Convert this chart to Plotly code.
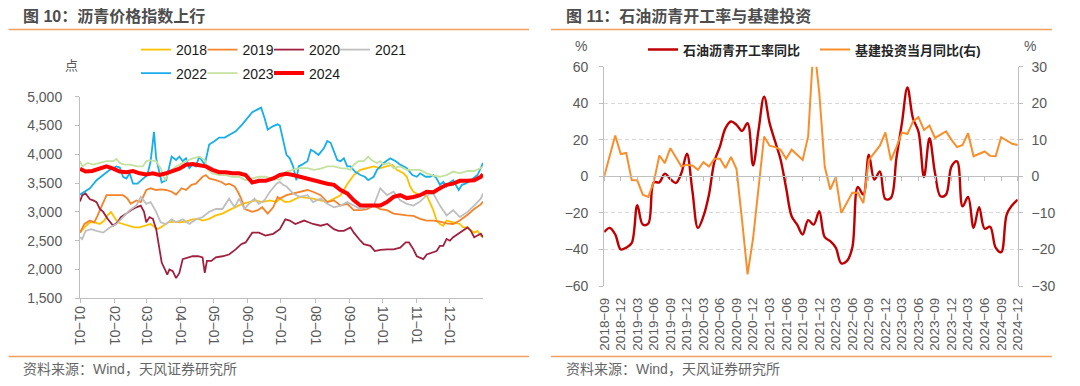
import pandas as pd
import plotly.graph_objects as go

# ------------------------------------------------------------------
# Left chart: asphalt price index by year (day-of-year offsets, value in points)
# ------------------------------------------------------------------
d2018_days = [0, 4, 9, 13, 18, 22, 25, 28, 31, 34, 39, 45, 49, 54, 60, 64, 70, 73, 80, 84,
              90, 96, 102, 107, 111, 117, 123, 129, 135, 141, 147, 153, 159, 165, 172, 178, 181, 186, 190, 199,
              211, 224, 236, 242, 248, 254, 260, 266, 272, 278, 283, 287, 293, 296, 299, 302, 308, 314, 317, 320,
              323, 326, 329, 332, 338, 344, 347, 351, 357, 360, 363, 365]
d2018_vals = [2640, 2730, 2820, 2820, 2790, 2850, 2940, 3000, 2910, 2820, 2790, 2760, 2730, 2730, 2760, 2790, 2700, 2730, 2820, 2830,
              2820, 2830, 2870, 2880, 2850, 2880, 2940, 2970, 3030, 3080, 3140, 3170, 3200, 3170, 3200, 3170, 3230, 3170, 3180, 3260,
              3230, 3170, 3290, 3480, 3640, 3730, 3760, 3790, 3760, 3790, 3820, 3730, 3670, 3610, 3440, 3350, 3290, 3290, 3170, 3030,
              2850, 2790, 2760, 2850, 2820, 2790, 2730, 2730, 2640, 2670, 2590, 2560]

d2019_days = [0, 4, 9, 13, 16, 19, 24, 28, 34, 39, 43, 46, 51, 55, 60, 64, 69, 73, 78, 83,
              87, 92, 96, 101, 105, 111, 114, 117, 123, 128, 132, 135, 140, 143, 146, 149, 152, 156, 161, 165,
              170, 175, 179, 181, 187, 193, 199, 206, 211, 218, 224, 230, 236, 242, 248, 254, 260, 266, 272, 278,
              284, 290, 296, 302, 308, 314, 320, 326, 332, 338, 344, 351, 357, 363, 365]
d2019_vals = [2640, 2790, 2850, 2820, 2940, 3080, 3290, 3290, 3290, 3290, 3230, 3140, 3200, 3170, 3380, 3410, 3380, 3390, 3380, 3350,
              3300, 3410, 3380, 3470, 3490, 3610, 3640, 3580, 3550, 3520, 3470, 3490, 3440, 3350, 3230, 3050, 3030, 3000, 3030, 3080,
              2970, 3080, 3260, 3230, 3290, 3320, 3350, 3380, 3350, 3290, 3170, 3200, 3110, 3140, 3030, 3030, 3050, 3110, 3050, 3030,
              2970, 2950, 2940, 2930, 2880, 2850, 2850, 2830, 2800, 2790, 2850, 2950, 3050, 3130, 3180]

d2020_days = [0, 2, 5, 9, 12, 15, 18, 21, 25, 30, 34, 37, 42, 46, 51, 55, 58, 60, 63, 66,
              69, 72, 74, 77, 79, 81, 84, 87, 90, 93, 98, 102, 107, 111, 113, 115, 119, 123, 129, 135,
              141, 146, 150, 156, 162, 168, 175, 181, 186, 190, 195, 199, 203, 207, 211, 218, 224, 230, 234, 239,
              245, 248, 251, 254, 257, 263, 267, 272, 278, 284, 290, 295, 298, 302, 305, 308, 311, 314, 319, 323,
              326, 329, 332, 335, 338, 344, 351, 354, 357, 360, 363, 365]
d2020_vals = [3180, 3290, 3320, 3220, 3200, 3170, 3050, 3000, 2880, 2760, 2820, 2910, 2970, 3030, 3080, 3110, 3000, 2820, 2910, 2880,
              2700, 2350, 2120, 2000, 1910, 2000, 1970, 1850, 1940, 2180, 2210, 2230, 2230, 2210, 1940, 2150, 2150, 2210, 2230, 2260,
              2350, 2440, 2470, 2640, 2640, 2590, 2620, 2700, 2870, 2850, 2790, 2820, 2850, 2820, 2790, 2760, 2790, 2700, 2670, 2670,
              2730, 2640, 2560, 2500, 2440, 2410, 2320, 2340, 2350, 2350, 2380, 2470, 2470, 2350, 2230, 2210, 2180, 2260, 2290, 2320,
              2410, 2410, 2530, 2500, 2560, 2640, 2730, 2670, 2560, 2590, 2620, 2560]

d2021_days = [0, 2, 5, 10, 15, 21, 27, 33, 39, 45, 51, 55, 60, 64, 69, 73, 78, 83, 87, 93,
              99, 105, 111, 117, 123, 129, 135, 140, 144, 149, 153, 158, 162, 167, 172, 178, 181, 184, 187, 193,
              199, 206, 211, 218, 224, 230, 236, 242, 248, 254, 260, 266, 272, 278, 284, 290, 296, 302, 308, 314,
              320, 326, 332, 338, 344, 351, 357, 363, 365]
d2021_vals = [2560, 2530, 2670, 2700, 2670, 2640, 2730, 2790, 2910, 3030, 3110, 3260, 3140, 3170, 3000, 2820, 2790, 2870, 2820, 2870,
              2790, 2870, 2910, 3000, 3050, 3050, 3230, 3080, 3230, 3050, 3140, 3230, 3140, 3200, 3350, 3490, 3520, 3470, 3440, 3320,
              3260, 3290, 3170, 3230, 3140, 3080, 3110, 3170, 3110, 3050, 3080, 3110, 3410, 3290, 3350, 3200, 3140, 3110, 3180, 3290,
              3320, 3110, 2940, 3030, 2910, 3000, 3110, 3230, 3320]

d2022_days = [0, 4, 9, 15, 21, 27, 33, 36, 39, 42, 45, 48, 52, 57, 61, 64, 67, 69, 72, 74,
              78, 83, 87, 90, 93, 96, 99, 102, 105, 108, 113, 117, 122, 126, 131, 135, 141, 147, 152, 156,
              161, 164, 167, 170, 175, 179, 181, 187, 190, 193, 196, 198, 201, 206, 209, 212, 216, 221, 224, 227,
              230, 233, 236, 239, 242, 245, 249, 254, 258, 261, 266, 269, 275, 281, 286, 290, 296, 301, 305, 308,
              313, 317, 320, 323, 326, 329, 332, 335, 338, 343, 346, 349, 354, 360, 363, 365]
d2022_vals = [3300, 3350, 3410, 3550, 3640, 3730, 3790, 3770, 3610, 3580, 3670, 3490, 3490, 3580, 3640, 3880, 4390, 3930, 3640, 3510,
              3550, 3960, 3900, 3960, 3880, 3930, 3760, 3820, 3790, 3960, 3820, 4170, 4230, 4290, 4290, 4340, 4400, 4520, 4640, 4730,
              4780, 4810, 4640, 4430, 4490, 4520, 4500, 3990, 3930, 3790, 3550, 3790, 3820, 3880, 4080, 4050, 3990, 4110, 4230, 4200,
              4050, 3900, 3880, 3930, 3790, 3790, 3700, 3640, 3610, 3550, 3610, 3730, 3850, 3930, 3880, 3820, 3760, 3640, 3610, 3670,
              3610, 3610, 3640, 3580, 3470, 3520, 3440, 3510, 3550, 3380, 3470, 3490, 3550, 3640, 3760, 3850]

d2023_days = [0, 2, 7, 12, 18, 24, 30, 33, 36, 40, 45, 52, 57, 60, 63, 69, 73, 77, 81, 87,
              96, 102, 108, 113, 116, 120, 126, 132, 138, 144, 150, 156, 162, 168, 175, 181, 187, 193, 199, 206,
              212, 218, 224, 230, 236, 242, 245, 248, 252, 257, 261, 264, 269, 272, 275, 280, 284, 290, 296, 302,
              308, 314, 320, 326, 332, 338, 344, 351, 357, 363, 365]
d2023_vals = [3880, 3790, 3850, 3820, 3850, 3880, 3880, 3920, 3850, 3820, 3820, 3790, 3790, 3880, 3900, 3880, 3760, 3550, 3700, 3790,
              3880, 3930, 3960, 3900, 3730, 3670, 3640, 3640, 3610, 3610, 3550, 3580, 3610, 3610, 3570, 3560, 3700, 3730, 3760, 3760,
              3730, 3750, 3790, 3790, 3760, 3750, 3730, 3820, 3880, 3880, 3960, 3900, 3850, 3880, 3820, 3850, 3760, 3790, 3730, 3730,
              3730, 3670, 3630, 3610, 3640, 3700, 3670, 3710, 3710, 3760, 3790]

d2024_days = [0, 5, 11, 17, 24, 30, 36, 42, 48, 54, 60, 66, 72, 78, 84, 90, 96, 102, 108, 114,
              120, 126, 132, 138, 144, 150, 156, 162, 168, 175, 181, 187, 193, 199, 205, 211, 218, 224, 230, 236,
              242, 248, 254, 260, 266, 272, 278, 284, 290, 296, 302, 308, 314, 320, 326, 332, 338, 344, 351, 357,
              363, 365]
d2024_vals = [3750, 3700, 3710, 3750, 3790, 3750, 3700, 3690, 3710, 3670, 3650, 3670, 3640, 3670, 3710, 3750, 3820, 3830, 3810, 3790,
              3730, 3690, 3690, 3670, 3670, 3640, 3510, 3540, 3540, 3580, 3640, 3660, 3640, 3610, 3580, 3540, 3520, 3490, 3470, 3380,
              3320, 3200, 3110, 3110, 3110, 3110, 3170, 3260, 3290, 3240, 3260, 3290, 3350, 3340, 3410, 3470, 3490, 3540, 3540, 3550,
              3610, 3650]

month_tick_dates = ["2024-01-01", "2024-02-01", "2024-03-01", "2024-04-01", "2024-05-01", "2024-06-01",
                    "2024-07-01", "2024-08-01", "2024-09-01", "2024-10-01", "2024-11-01", "2024-12-01"]
month_tick_text = ["01−01", "02−01", "03−01", "04−01", "05−01", "06−01",
                   "07−01", "08−01", "09−01", "10−01", "11−01", "12−01"]

# ------------------------------------------------------------------
# Right chart: monthly, 2018-09 .. 2024-12
# ------------------------------------------------------------------
months = [p.strftime("%Y-%m") for p in pd.period_range("2018-09", "2024-12", freq="M")]
rate_yoy = [-30.5, -28.2, -31.8, -40, -39, -36.4, -15.8, -26.4, -25.8, -3.3,
            -3.3, 1.5, -1.5, -3.6, 1.8, 12.4, -8, -28.2, -21.8, -10,
            8.2, 16.4, 26.4, 30, 28.2, 24.9, 29.1, 6, 25.5, 43.6,
            29.1, 19.1, 9.1, -6.4, -21.8, -26.4, -31.8, -24, -26.4, -19.1,
            -33.3, -35.5, -39, -47.6, -46.4, -39, -5.8, -10, 11.8, -1.8,
            2.7, -12.4, -11.8, 10, 29.1, 48.7, 31.8, 24.5, -0.4, 20.9,
            1.8, -10.9, -10, 5.5, 8.2, -16.4, -11.3, -28.2, -16.9, -28.7,
            -27.6, -39, -41.5, -20.9, -15.8, -12.7]
infra_yoy = [0, 5.5, 11.2, 6.1, 6.4, -1.1, -1.1, -5, -5.6, -1.5,
             5.7, 3.6, 7.7, 5.2, 2.7, 3.2, 3, 1.8, 3.9, 2.7,
             4.8, 4.8, 2.3, 5.3, 2, -12, -26.8, -17, -3.5, 10.9,
             8.4, 8, 7.3, 4.8, 7.3, 5.9, 4.5, 11, 37, 23,
             2.7, -3.6, -0.2, -10, -7.3, -4.5, -4.5, -7.3, 4.5, 6.4,
             8.4, 12, 4.4, 8, 12, 11.6, 15, 16.2, 12.7, 13.9,
             10.5, 11.4, 12.3, 10, 8, 8.6, 11.8, 5.5, 6.2, 6.8,
             5.6, 5.5, 10.7, 9.8, 8.9, 8.6]
month_tick_idx = list(range(0, len(months), 3))
month_tick_lbl = [months[i].replace("-", "−") for i in month_tick_idx]

# ------------------------------------------------------------------
W, H = 1080, 386
FONT = "Liberation Sans, Arial, Noto Sans CJK SC, sans-serif"
GREY_TXT = "#595959"
AXIS = "#BFBFBF"
SEP = "#F4A15D"


def px(x):
    return x / W


def py(y):
    return 1 - y / H


base = pd.Timestamp("2024-01-01")


def to_dates(days):
    return [base + pd.Timedelta(days=int(d)) for d in days]


fig = go.Figure()

left_series = [
    ("2018", d2018_days, d2018_vals, "#FFC000", 1.8, "legend"),
    ("2019", d2019_days, d2019_vals, "#F5832A", 1.8, "legend2"),
    ("2020", d2020_days, d2020_vals, "#A0213F", 1.8, "legend3"),
    ("2021", d2021_days, d2021_vals, "#BFBFBF", 1.8, "legend4"),
    ("2022", d2022_days, d2022_vals, "#17AEEA", 1.8, "legend5"),
    ("2023", d2023_days, d2023_vals, "#C3E19F", 1.8, "legend6"),
    ("2024", d2024_days, d2024_vals, "#FF0000", 4.0, "legend7"),
]
for name, days, vals, color, width, leg in left_series:
    fig.add_trace(go.Scatter(x=to_dates(days), y=vals, name=name, mode="lines",
                             line=dict(color=color, width=width),
                             xaxis="x", yaxis="y", legend=leg))

fig.add_trace(go.Scatter(x=list(range(len(months))), y=rate_yoy, name="石油沥青开工率同比", mode="lines",
                         line=dict(color="#C00000", width=2.4, shape="spline", smoothing=1.0),
                         xaxis="x2", yaxis="y2", legend="legend8"))
fig.add_trace(go.Scatter(x=list(range(len(months))), y=infra_yoy, name="基建投资当月同比(右)", mode="lines",
                         line=dict(color="#F98E2C", width=2.0),
                         xaxis="x2", yaxis="y3", legend="legend9"))
# helper trace so the zero-line axis is drawn
fig.add_trace(go.Scatter(x=[0], y=[None], xaxis="x3", yaxis="y2", showlegend=False,
                         hoverinfo="skip", mode="lines"))

tick_font = dict(family=FONT, size=14, color=GREY_TXT)

layout = dict(
    width=W, height=H, autosize=False,
    margin=dict(l=0, r=0, t=0, b=0, autoexpand=False),
    paper_bgcolor="white", plot_bgcolor="white",
    font=dict(family=FONT, color=GREY_TXT),
    xaxis=dict(domain=[px(80), px(483)], anchor="y", type="date", automargin=False,
               range=["2024-01-01", "2024-12-31"],
               tickvals=month_tick_dates, ticktext=month_tick_text, tickangle=90,
               tickfont=tick_font, showgrid=False, zeroline=False,
               showline=True, linecolor=AXIS, linewidth=1,
               ticks="outside", ticklen=4, tickcolor=AXIS),
    yaxis=dict(domain=[py(298.3), py(96.7)], anchor="x", range=[1500, 5000], dtick=500, automargin=False,
               tickformat=",", tickfont=tick_font, showgrid=False, zeroline=False,
               showline=True, linecolor=AXIS, linewidth=1,
               ticks="outside", ticklen=4, tickcolor=AXIS, ticklabelstandoff=10),
    xaxis2=dict(domain=[px(604.2), px(1017.7)], anchor="y2", range=[0, len(months) - 1], automargin=False,
                tickvals=month_tick_idx, ticktext=month_tick_lbl, tickangle=-90,
                tickfont=dict(family=FONT, size=13.5, color=GREY_TXT),
                showgrid=False, zeroline=False, showline=False, ticks="",
                ticklabelstandoff=8),
    xaxis3=dict(overlaying="x2", anchor="free", position=(py(286) + py(66.7)) / 2, automargin=False,
                range=[0, len(months) - 1], tickvals=month_tick_idx,
                showticklabels=False, showgrid=False, zeroline=False,
                showline=True, linecolor=AXIS, linewidth=1.2,
                ticks="outside", ticklen=4, tickcolor=AXIS),
    yaxis2=dict(domain=[py(286), py(66.7)], anchor="x2", range=[-60, 60], dtick=20, automargin=False,
                tickfont=tick_font, showgrid=True, gridcolor="#D9D9D9", griddash="4px,3px",
                gridwidth=1, zeroline=False, showline=True, linecolor=AXIS, linewidth=1,
                ticks="outside", ticklen=4, tickcolor=AXIS, ticklabelstandoff=8),
    yaxis3=dict(overlaying="y2", side="right", anchor="x2", range=[-30, 30], dtick=10, automargin=False,
                tickfont=tick_font, showgrid=False, zeroline=False,
                showline=True, linecolor=AXIS, linewidth=1,
                ticks="outside", ticklen=4, tickcolor=AXIS, ticklabelstandoff=6),
)

left_leg_font = dict(family=FONT, size=14, color="#1A1A1A")
right_leg_font = dict(family=FONT, size=13, color="#262626", weight="bold")
leg_pos = {
    "legend": (141, 50, left_leg_font),
    "legend2": (207.5, 50, left_leg_font),
    "legend3": (274, 50, left_leg_font),
    "legend4": (340, 50, left_leg_font),
    "legend5": (141, 73.5, left_leg_font),
    "legend6": (207.5, 73.5, left_leg_font),
    "legend7": (274, 73.5, left_leg_font),
    "legend8": (648, 49.5, right_leg_font),
    "legend9": (820, 49.5, right_leg_font),
}
for key, (lx, ly, f) in leg_pos.items():
    layout[key] = dict(x=px(lx - 5), y=py(ly), xanchor="left", yanchor="middle",
                       orientation="h", bgcolor="rgba(0,0,0,0)", borderwidth=0,
                       font=f, itemwidth=30, tracegroupgap=0)

fig.update_layout(**layout)

# titles, separators, sources
title_font = dict(family=FONT, size=16, color="#4D4D4D", weight="bold")
src_font = dict(family=FONT, size=14, color="#666666")
fig.add_annotation(x=px(21), y=py(15.5), xref="paper", yref="paper", xanchor="left", yanchor="middle",
                   text="图 10：沥青价格指数上行", showarrow=False, font=title_font)
fig.add_annotation(x=px(564), y=py(15.5), xref="paper", yref="paper", xanchor="left", yanchor="middle",
                   text="图 11：石油沥青开工率与基建投资", showarrow=False, font=title_font)
fig.add_annotation(x=px(21), y=py(369), xref="paper", yref="paper", xanchor="left", yanchor="middle",
                   text="资料来源：Wind，天风证券研究所", showarrow=False, font=src_font)
fig.add_annotation(x=px(564), y=py(369), xref="paper", yref="paper", xanchor="left", yanchor="middle",
                   text="资料来源：Wind，天风证券研究所", showarrow=False, font=src_font)
fig.add_annotation(x=px(71), y=py(66), xref="paper", yref="paper", xanchor="center", yanchor="middle",
                   text="点", showarrow=False, font=dict(family=FONT, size=13, color=GREY_TXT))
fig.add_annotation(x=px(581), y=py(46), xref="paper", yref="paper", xanchor="center", yanchor="middle",
                   text="%", showarrow=False, font=dict(family=FONT, size=14, color=GREY_TXT))
fig.add_annotation(x=px(1030), y=py(46), xref="paper", yref="paper", xanchor="center", yanchor="middle",
                   text="%", showarrow=False, font=dict(family=FONT, size=14, color=GREY_TXT))

for x0, x1 in [(8.5, 529), (551, 1052)]:
    for yy in (29.4, 356.5):
        fig.add_shape(type="line", xref="paper", yref="paper", x0=px(x0), x1=px(x1), y0=py(yy), y1=py(yy),
                      line=dict(color=SEP, width=1.5))

fig.write_html("out.html", config={"displayModeBar": False},
               post_script="document.body.style.margin='0px';")
